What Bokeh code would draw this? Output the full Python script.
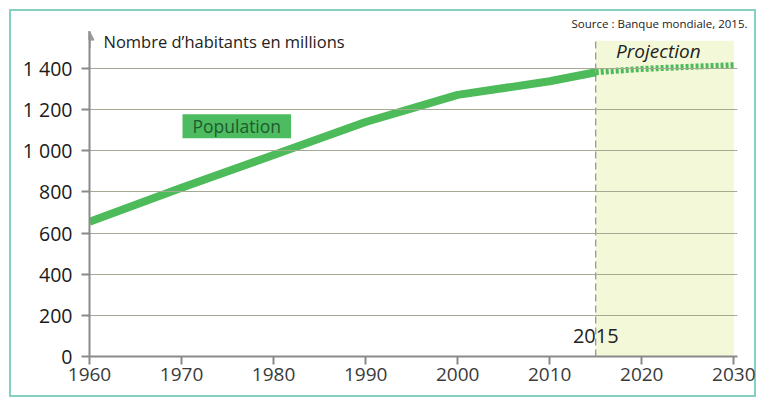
from bokeh.plotting import figure
from bokeh.models import FixedTicker, Label, BoxAnnotation, Arrow, NormalHead, Range1d
from bokeh.embed import file_html
from bokeh.resources import INLINE

# ---- data ----
years = [1960, 1970, 1980, 1990, 2000, 2010, 2015]
population = [655, 820, 980, 1140, 1272, 1338, 1382]
proj_years = [2015, 2020, 2025, 2030]
proj_population = [1382, 1398, 1408, 1416]
split_year = 2015
proj_end = 2030
x_ticks = [1960, 1970, 1980, 1990, 2000, 2010, 2020, 2030]
y_ticks = [0, 200, 400, 600, 800, 1000, 1200, 1400]
y_tick_labels = ["0", "200", "400", "600", "800", "1 000", "1 200", "1 400"]

FONT = "Open Sans"
GREEN = "#4dbb5a"
AXIS = "#8a8a8a"

p = figure(width=759, height=400, output_backend="svg", toolbar_location=None,
           x_range=Range1d(1960, 2030.4), y_range=Range1d(0, 1580),
           min_border_left=89, min_border_right=22, min_border_top=31, min_border_bottom=44,
           styles={"background-color": "white",
                   "box-shadow": "inset 3px 3px 0 6px white, inset 3px 3px 0 8px #86cfc3"})
p.outline_line_color = None
p.background_fill_color = None
p.border_fill_color = None

# source line as a right-aligned title above the frame
p.title.text = "Source : Banque mondiale, 2015."
p.title.align = "right"
p.title.text_font = FONT
p.title.text_font_size = "11.5px"
p.title.text_font_style = "normal"
p.title.text_color = "#222222"
p.title.standoff = 2
p.title.offset = -10

# projection shading
shade = BoxAnnotation(left=split_year, right=proj_end, bottom=0, top=1535,
                      fill_color="#f3f8d9", fill_alpha=1.0, line_color=None, level="underlay")
p.add_layout(shade)

# grid
p.xgrid.visible = False
p.ygrid.ticker = FixedTicker(ticks=y_ticks[1:])
p.ygrid.grid_line_color = "#a3ab93"
p.ygrid.grid_line_width = 1
p.ygrid.level = "glyph"

# axes
for ax in (p.xaxis[0], p.yaxis[0]):
    ax.axis_line_color = AXIS
    ax.axis_line_width = 2
    ax.major_tick_line_color = AXIS
    ax.major_tick_line_width = 2
    ax.major_tick_out = 8
    ax.major_tick_in = 0
    ax.minor_tick_line_color = None
    ax.major_label_text_font = FONT

p.xaxis.ticker = FixedTicker(ticks=x_ticks)
p.xaxis.major_label_text_font_size = "19px"
p.xaxis.major_label_text_color = "#3a3a3a"
p.xaxis.major_label_standoff = 3

p.yaxis.ticker = FixedTicker(ticks=y_ticks)
p.yaxis.major_label_overrides = {t: l for t, l in zip(y_ticks, y_tick_labels)}
p.yaxis.major_label_text_font_size = "19.5px"
p.yaxis.major_label_text_color = "#1a1a1a"
p.yaxis.major_label_standoff = 9

# y axis arrow head
p.add_layout(Arrow(end=NormalHead(size=9, fill_color="#9a9a9a", line_color="#9a9a9a"),
                   x_start=1960, y_start=1500, x_end=1960, y_end=1582,
                   line_color=AXIS, line_width=2))

# 2015 dashed separator
p.segment(x0=[split_year], y0=[0], x1=[split_year], y1=[1535],
          line_color="#7a7a7a", line_width=1, line_dash="7 4")

# data lines
p.line(years, population, line_width=8, line_color=GREEN)
p.line(proj_years, proj_population, line_width=6, line_color=GREEN, line_dash="3 2")

# texts
p.add_layout(Label(x=1960, y=1529, x_offset=14, text="Nombre d\u2019habitants en millions",
                   text_font=FONT, text_font_size="16.5px", text_color="#222222",
                   text_baseline="middle"))
p.add_layout(Label(x=2021.8, y=1487, text="Projection", text_font=FONT,
                   text_font_size="19px", text_font_style="italic", text_color="#222222",
                   text_baseline="middle", text_align="center"))
p.add_layout(Label(x=split_year, y=98, text="2015", text_font=FONT,
                   text_font_size="20px", text_color="#222222",
                   text_baseline="middle", text_align="center"))
p.add_layout(Label(x=1976, y=1119, text="Population", text_font=FONT,
                   text_font_size="17.5px", text_color="#1d5c2e",
                   text_baseline="middle", text_align="center",
                   background_fill_color="#4dbb5f",
                   padding=dict(left=10, right=10, top=0, bottom=0)))

open("out.html", "w").write(file_html(p, INLINE))
